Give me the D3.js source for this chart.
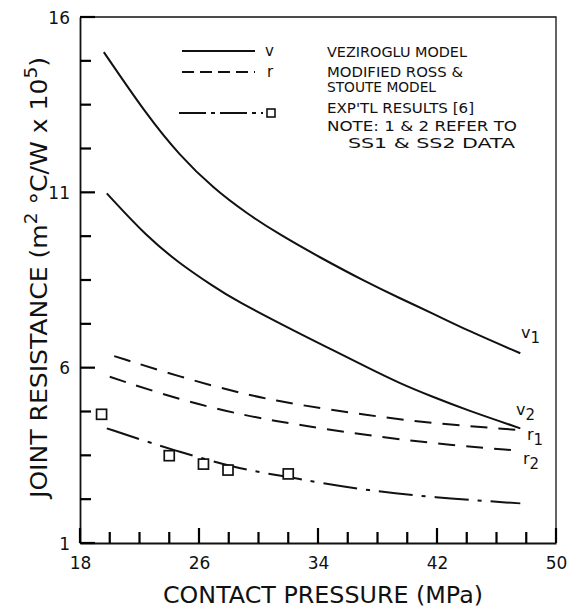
<!DOCTYPE html>
<html><head><meta charset="utf-8">
<script src="https://cdn.jsdelivr.net/npm/d3@7"></script>
<style>body{margin:0;background:#fff}svg{display:block}text{font-family:"DejaVu Sans",sans-serif;fill:#111}</style>
</head><body><svg id="c" width="569" height="607"></svg>
<script>
// Data (pressure MPa, resistance m²°C/W x 1e5)
const v1P = [19.6, 22.5, 24.7, 27.0, 29.2, 31.4, 34.1, 37.2, 39.5, 41.7, 44.0, 47.6];
const v1R = [15.0, 13.2, 12.05, 11.1, 10.4, 9.8, 9.15, 8.45, 7.98, 7.55, 7.07, 6.41];
const v2P = [19.8, 22.5, 24.7, 27.0, 28.3, 32.8, 35.0, 37.2, 39.5, 41.7, 44.0, 47.6];
const v2R = [10.97, 9.73, 8.97, 8.31, 7.95, 6.96, 6.50, 6.03, 5.55, 5.17, 4.79, 4.27];
const r1P = [20.3, 24.7, 29.2, 32.8, 37.2, 41.7, 47.6];
const r1R = [6.33, 5.74, 5.22, 4.93, 4.65, 4.41, 4.22];
const r2P = [20.0, 24.7, 29.2, 32.8, 37.2, 41.7, 47.5];
const r2R = [5.74, 5.08, 4.62, 4.36, 4.08, 3.84, 3.63];
const eP = [19.8, 22.5, 24.7, 27.0, 29.2, 31.9, 34.1, 37.2, 41.7, 47.6];
const eR = [4.27, 3.89, 3.60, 3.32, 3.08, 2.89, 2.72, 2.51, 2.30, 2.13];
const expP = [19.45, 24.0, 26.3, 27.95, 32.0];
const expR = [4.67, 3.49, 3.25, 3.08, 2.97];
const xMajor = [18, 26, 34, 42, 50];
const xMinor = [20, 22, 24, 28, 30, 32, 36, 38, 40, 44, 46, 48];
const yMajor = [1, 6, 11, 16];
const yMinor = [2.25, 3.5, 4.75, 7.25, 8.5, 9.75, 12.25, 13.5, 14.75];
const legendText = ["VEZIROGLU  MODEL", "MODIFIED ROSS &", "STOUTE MODEL", "EXP'TL RESULTS [6]", "NOTE: 1 & 2 REFER TO", "SS1 & SS2 DATA"];

const svg = d3.select("#c");
const x = d3.scaleLinear().domain([18, 50]).range([80, 556]);
const y = d3.scaleLinear().domain([1, 16]).range([543, 17]);
const ink = "#111";

// frame
svg.append("path").attr("d", `M${x(18)},${y(16)}H${x(50)}V${y(1)}`).attr("fill", "none").attr("stroke", ink).attr("stroke-width", 1.3);

// axes labels via d3 axis
const gx = svg.append("g").attr("transform", `translate(0,${y(1)})`);
gx.call(d3.axisBottom(x).tickValues(xMajor).tickSize(0).tickSizeOuter(0).tickPadding(14).tickFormat(d3.format("d")));
const gy = svg.append("g").attr("transform", `translate(${x(18)},0)`);
gy.call(d3.axisLeft(y).tickValues(yMajor).tickSize(0).tickSizeOuter(0).tickPadding(10).tickFormat(d3.format("d")));
svg.selectAll(".domain").attr("stroke", ink).attr("stroke-width", 1.8);
svg.selectAll(".tick text").attr("font-size", 17).attr("fill", ink).style("font-family", "DejaVu Sans");
gy.selectAll(".tick text").attr("dy", "0.36em");

// curves
const line = d3.line().x(d => x(d[0])).y(d => y(d[1])).curve(d3.curveBasis);
const zip = (a, b) => a.map((v, i) => [v, b[i]]);
const curves = [
  {p: v1P, r: v1R, dash: null},
  {p: v2P, r: v2R, dash: null},
  {p: r1P, r: r1R, dash: "17,11"},
  {p: r2P, r: r2R, dash: "17,11"},
  {p: eP, r: eR, dash: "34,9,4,9"}
];
curves.forEach(c => {
  svg.append("path").attr("d", line(zip(c.p, c.r))).attr("fill", "none")
    .attr("stroke", ink).attr("stroke-width", 2).attr("stroke-dasharray", c.dash);
});

// experimental squares
svg.append("g").selectAll("rect").data(zip(expP, expR)).enter().append("rect")
  .attr("x", d => x(d[0]) - 5).attr("y", d => y(d[1]) - 5).attr("width", 10).attr("height", 10)
  .attr("fill", "#fff").attr("stroke", ink).attr("stroke-width", 1.7);

// curve labels
function subLabel(tx, ty, main, sub) {
  const t = svg.append("text").attr("x", tx).attr("y", ty).attr("font-size", 16);
  t.append("tspan").text(main);
  t.append("tspan").attr("dy", 5).attr("font-size", 15).text(sub);
}
subLabel(521, 338, "v", "1");
subLabel(516, 415, "v", "2");
subLabel(527, 440, "r", "1");
subLabel(523, 464, "r", "2");

// legend
const lg = svg.append("g");
lg.append("line").attr("x1", 182).attr("x2", 255).attr("y1", 51).attr("y2", 51).attr("stroke", ink).attr("stroke-width", 2);
lg.append("line").attr("x1", 182).attr("x2", 255).attr("y1", 72).attr("y2", 72).attr("stroke", ink).attr("stroke-width", 2).attr("stroke-dasharray", "12,6");
lg.append("line").attr("x1", 179).attr("x2", 263).attr("y1", 113).attr("y2", 113).attr("stroke", ink).attr("stroke-width", 2).attr("stroke-dasharray", "27,5,4,5");
lg.append("rect").attr("x", 267).attr("y", 109).attr("width", 8).attr("height", 8).attr("fill", "#fff").attr("stroke", ink).attr("stroke-width", 1.6);
lg.append("text").attr("x", 265).attr("y", 56).attr("font-size", 15).text("v");
lg.append("text").attr("x", 267).attr("y", 77).attr("font-size", 15).text("r");
const lx = [327, 327, 327, 327, 327, 348];
const ly = [57, 76.5, 92, 112.5, 130.5, 147.5];
const lw = [140, 136, 109, 147, 190, 167];
legendText.forEach((s, i) => {
  lg.append("text").attr("x", lx[i]).attr("y", ly[i]).attr("font-size", 14)
    .attr("textLength", lw[i]).attr("lengthAdjust", "spacingAndGlyphs").text(s);
});

// axis titles
svg.append("text").attr("x", 163).attr("y", 603).attr("font-size", 23)
  .attr("textLength", 320).attr("lengthAdjust", "spacingAndGlyphs").text("CONTACT PRESSURE (MPa)");
const yt = svg.append("text").attr("transform", "translate(47,498) rotate(-90)").attr("font-size", 23)
  .attr("textLength", 441).attr("lengthAdjust", "spacingAndGlyphs");
yt.append("tspan").text("JOINT RESISTANCE (m");
yt.append("tspan").attr("dy", -10).attr("font-size", 17).text("2");
yt.append("tspan").attr("dy", 10).text(" °C/W x 10");
yt.append("tspan").attr("dy", -10).attr("font-size", 17).text("5");
yt.append("tspan").attr("dy", 10).text(")");

// inward tick marks, positioned by the scales, drawn last
const tg = svg.append("g");
xMajor.forEach(v => tg.append("rect").attr("x", x(v) - 1.1).attr("y", y(1) - 15).attr("width", 2.2).attr("height", 15).attr("fill", "#000"));
xMinor.forEach(v => tg.append("rect").attr("x", x(v) - 1.1).attr("y", y(1) - 11).attr("width", 2.2).attr("height", 11).attr("fill", "#000"));
yMajor.forEach(v => tg.append("rect").attr("x", x(18)).attr("y", y(v) - 1.1).attr("width", 15).attr("height", 2.2).attr("fill", "#000"));
yMinor.forEach(v => tg.append("rect").attr("x", x(18)).attr("y", y(v) - 1.1).attr("width", 11).attr("height", 2.2).attr("fill", "#000"));
</script></body></html>
